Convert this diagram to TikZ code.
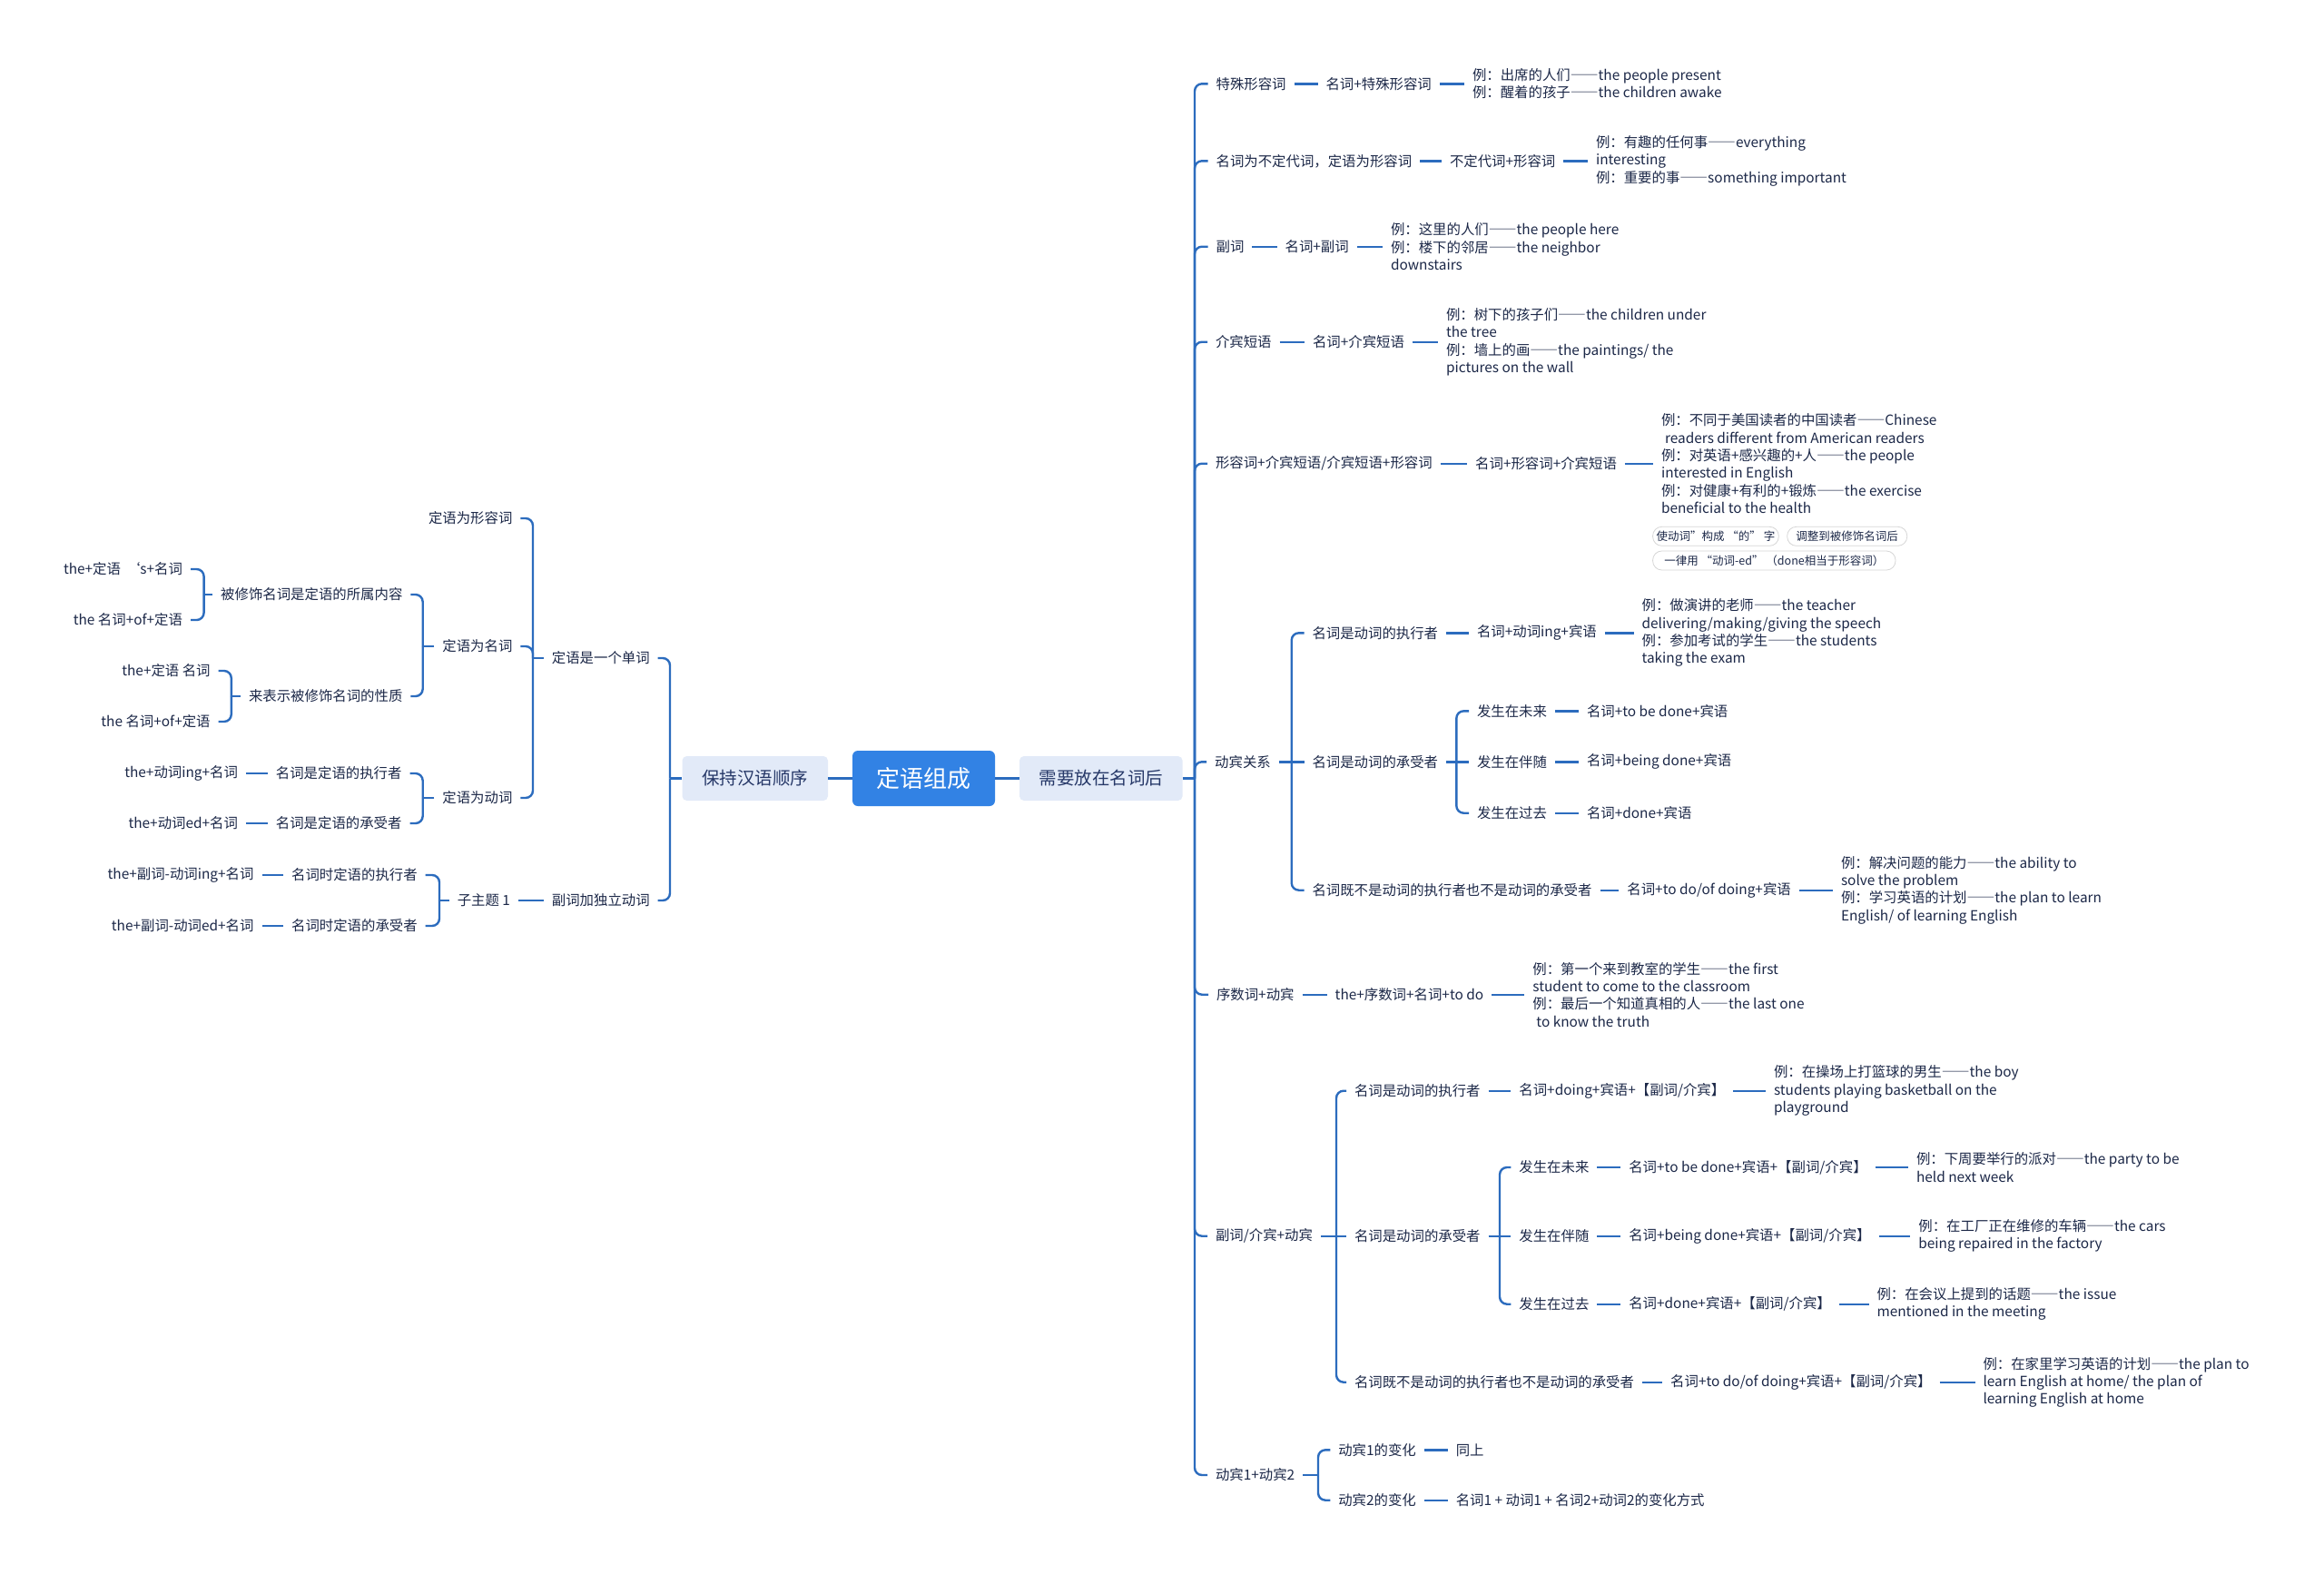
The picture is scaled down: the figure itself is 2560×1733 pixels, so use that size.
\documentclass[tikz,border=0pt]{standalone}
\usepackage{fontspec}
\setmainfont{Noto Sans CJK SC}
\definecolor{ln}{RGB}{44,108,190}
\definecolor{txt}{RGB}{28,40,72}
\definecolor{subtxt}{RGB}{38,56,104}
\definecolor{boxc}{RGB}{226,234,248}
\definecolor{rootc}{RGB}{50,130,228}
\definecolor{tagc}{RGB}{214,214,214}
\newcommand\fN{\fontsize{15.4}{19.3}\selectfont}
\newcommand\fT{\fontsize{12.5}{15}\selectfont}
\newcommand\fB{\fontsize{19.5}{23}\selectfont}
\newcommand\fC{\fontsize{26}{30}\selectfont}
\newcommand\dd{{\addfontfeature{RawFeature=+fwid}——}}
\tikzset{
  base/.style={inner sep=0pt, outer sep=0pt, text=txt, font=\fN},
  lt/.style={base, anchor=east},
  rt/.style={base, anchor=west},
  exb/.style={base, anchor=west, align=left},
  conn/.style={draw=ln, line width=2.4pt},
  brk/.style={conn, rounded corners=8pt},
  tagbox/.style={base, anchor=west, font=\fT, draw=tagc, line width=0.8pt, fill=white, rounded corners=10pt, minimum height=21pt, align=center},
  subbox/.style={fill=boxc, rounded corners=5pt, text=subtxt, font=\fB, inner sep=0pt, minimum height=49pt},
  rootbox/.style={fill=rootc, rounded corners=6pt, text=white, font=\fC, inner sep=0pt},
}
\begin{document}
\begin{tikzpicture}[x=1pt,y=-1pt]
\fill[white] (0,0) rectangle (2560,1733);
\useasboundingbox (0,0) rectangle (2560,1733);

% ---- centre ----
\node[rootbox, minimum width=157pt, minimum height=61pt] (root) at (1017.5,857.5) {定语组成};
\node[subbox, minimum width=160.5pt] (keep) at (831.75,857.5) {保持汉语顺序};
\node[subbox, minimum width=179.6pt] (need) at (1212.8,857.5) {需要放在名词后};
\draw[conn] (keep.east) -- (root.west);
\draw[conn] (root.east) -- (need.west);

% ---- trunk coordinates ----
\coordinate (tK) at (738,0);
\coordinate (tL1) at (587,0);
\coordinate (tL1b) at (465.7,0);
\coordinate (tL1b1) at (224.6,0);
\coordinate (tL1b2) at (254.8,0);
\coordinate (tL1c) at (465.7,0);
\coordinate (tL2a) at (484,0);
\coordinate (tM) at (1316,0);
\coordinate (tR6) at (1422.7,0);
\coordinate (tR6b) at (1604.3,0);
\coordinate (tR8) at (1472,0);
\coordinate (tR8b) at (1652,0);
\coordinate (tR9) at (1452,0);

% ---- left side ----
\node[lt] (L1) at (715.7,725) {定语是一个单词};
\node[lt] (L2) at (715.7,992) {副词加独立动词};
\node[lt] (L1a) at (564.4,571) {定语为形容词};
\node[lt] (L1b) at (564.4,712) {定语为名词};
\node[lt] (L1c) at (564.4,879) {定语为动词};
\node[lt] (L1b1) at (443.4,655) {被修饰名词是定语的所属内容};
\node[lt] (L1b2) at (443.4,767) {来表示被修饰名词的性质};
\node[lt] (L1b1a) at (201,627) {the+定语\hspace{6pt}‘s+名词};
\node[lt] (L1b1b) at (201,683) {the 名词+of+定语};
\node[lt] (L1b2a) at (231.6,739) {the+定语 名词};
\node[lt] (L1b2b) at (231.6,795) {the 名词+of+定语};
\node[lt] (L1c1) at (442.5,852) {名词是定语的执行者};
\node[lt] (L1c2) at (442.5,907) {名词是定语的承受者};
\node[lt] (L1c1a) at (262,852) {the+动词ing+名词};
\node[lt] (L1c2a) at (262,907) {the+动词ed+名词};
\node[lt] (L2a) at (562,992) {子主题 1};
\node[lt] (L2a1) at (459.7,964) {名词时定语的执行者};
\node[lt] (L2a2) at (459.7,1020) {名词时定语的承受者};
\node[lt] (L2a1a) at (279.5,964) {the+副词-动词ing+名词};
\node[lt] (L2a2a) at (279.5,1020) {the+副词-动词ed+名词};

\draw[conn] (keep.west) -- (keep.west -| tK);
\draw[brk] (keep.west -| tK) |- ([xshift=9pt]L1.east);
\draw[brk] (keep.west -| tK) |- ([xshift=9pt]L2.east);

\draw[conn] ([xshift=-9pt]L1.west) -- (L1.west -| tL1);
\draw[brk] (L1.west -| tL1) |- ([xshift=9pt]L1a.east);
\draw[brk] (L1.west -| tL1) |- ([xshift=9pt]L1b.east);
\draw[brk] (L1.west -| tL1) |- ([xshift=9pt]L1c.east);

\draw[conn] ([xshift=-9pt]L1b.west) -- (L1b.west -| tL1b);
\draw[brk] (L1b.west -| tL1b) |- ([xshift=9pt]L1b1.east);
\draw[brk] (L1b.west -| tL1b) |- ([xshift=9pt]L1b2.east);

\draw[conn] ([xshift=-9pt]L1b1.west) -- (L1b1.west -| tL1b1);
\draw[brk] (L1b1.west -| tL1b1) |- ([xshift=9pt]L1b1a.east);
\draw[brk] (L1b1.west -| tL1b1) |- ([xshift=9pt]L1b1b.east);

\draw[conn] ([xshift=-9pt]L1b2.west) -- (L1b2.west -| tL1b2);
\draw[brk] (L1b2.west -| tL1b2) |- ([xshift=9pt]L1b2a.east);
\draw[brk] (L1b2.west -| tL1b2) |- ([xshift=9pt]L1b2b.east);

\draw[conn] ([xshift=-9pt]L1c.west) -- (L1c.west -| tL1c);
\draw[brk] (L1c.west -| tL1c) |- ([xshift=9pt]L1c1.east);
\draw[brk] (L1c.west -| tL1c) |- ([xshift=9pt]L1c2.east);

\draw[conn] ([xshift=-9pt]L1c1.west) -- ([xshift=9pt]L1c1a.east);
\draw[conn] ([xshift=-9pt]L1c2.west) -- ([xshift=9pt]L1c2a.east);

\draw[conn] ([xshift=-9pt]L2.west) -- ([xshift=9pt]L2a.east);
\draw[conn] ([xshift=-9pt]L2a.west) -- (L2a.west -| tL2a);
\draw[brk] (L2a.west -| tL2a) |- ([xshift=9pt]L2a1.east);
\draw[brk] (L2a.west -| tL2a) |- ([xshift=9pt]L2a2.east);
\draw[conn] ([xshift=-9pt]L2a1.west) -- ([xshift=9pt]L2a1a.east);
\draw[conn] ([xshift=-9pt]L2a2.west) -- ([xshift=9pt]L2a2a.east);

% ---- right side ----
\node[rt] (R1) at (1339.6,92.3) {特殊形容词};
\node[rt] (R1a) at (1460.5,92.3) {名词+特殊形容词};
\node[exb] (R1b) at (1622,92.3) {例：出席的人们\dd the people present\\例：醒着的孩子\dd the children awake};

\node[rt] (R2) at (1339.6,177.3) {名词为不定代词，定语为形容词};
\node[rt] (R2a) at (1597,177.3) {不定代词+形容词};
\node[exb] (R2b) at (1758,177.3) {例：有趣的任何事\dd everything\\interesting\\例：重要的事\dd something important};

\node[rt] (R3) at (1339.6,271.7) {副词};
\node[rt] (R3a) at (1415.6,271.7) {名词+副词};
\node[exb] (R3b) at (1532,271.7) {例：这里的人们\dd the people here\\例：楼下的邻居\dd the neighbor\\downstairs};

\node[rt] (R4) at (1339,376.7) {介宾短语};
\node[rt] (R4a) at (1446,376.7) {名词+介宾短语};
\node[exb] (R4b) at (1593,376.7) {例：树下的孩子们\dd the children under\\the tree\\例：墙上的画\dd the paintings/ the\\pictures on the wall};

\node[rt] (R5) at (1339,510.7) {形容词+介宾短语/介宾短语+形容词};
\node[rt] (R5a) at (1625.2,510.7) {名词+形容词+介宾短语};
\node[exb] (R5b) at (1830,510.7) {例：不同于美国读者的中国读者\dd Chinese\\\hspace*{4pt}readers different from American readers\\例：对英语+感兴趣的+人\dd the people\\interested in English\\例：对健康+有利的+锻炼\dd the exercise\\beneficial to the health};
\node[tagbox, minimum width=138.7pt] (T1) at (1820.6,590.8) {使动词”构成 “的” 字};
\node[tagbox, minimum width=132pt] (T2) at (1968.7,590.8) {调整到被修饰名词后};
\node[tagbox, minimum width=267.4pt] (T3) at (1820.6,617.5) {一律用 “动词-ed” （done相当于形容词）};

\node[rt] (R6) at (1338.2,839.3) {动宾关系};
\node[rt] (R6a) at (1445.5,697.3) {名词是动词的执行者};
\node[rt] (R6a1) at (1627,697.3) {名词+动词ing+宾语};
\node[exb] (R6a2) at (1808.6,697.3) {例：做演讲的老师\dd the teacher\\delivering/making/giving the speech\\例：参加考试的学生\dd the students\\taking the exam};
\node[rt] (R6b) at (1445.5,839.3) {名词是动词的承受者};
\node[rt] (R6b1) at (1627,783.3) {发生在未来};
\node[rt] (R6b1a) at (1748,783.3) {名词+to be done+宾语};
\node[rt] (R6b2) at (1627,839.3) {发生在伴随};
\node[rt] (R6b2a) at (1748,839.3) {名词+being done+宾语};
\node[rt] (R6b3) at (1627,895.7) {发生在过去};
\node[rt] (R6b3a) at (1748,895.7) {名词+done+宾语};
\node[rt] (R6c) at (1445.5,980.7) {名词既不是动词的执行者也不是动词的承受者};
\node[rt] (R6c1) at (1792.4,980.7) {名词+to do/of doing+宾语};
\node[exb] (R6c2) at (2028,980.7) {例：解决问题的能力\dd the ability to\\solve the problem\\例：学习英语的计划\dd the plan to learn\\English/ of learning English};

\node[rt] (R7) at (1340,1095.7) {序数词+动宾};
\node[rt] (R7a) at (1470.7,1095.7) {the+序数词+名词+to do};
\node[exb] (R7b) at (1688.4,1095.7) {例：第一个来到教室的学生\dd the first\\student to come to the classroom\\例：最后一个知道真相的人\dd the last one\\\hspace*{4pt}to know the truth};

\node[rt] (R8) at (1339,1361.7) {副词/介宾+动宾};
\node[rt] (R8a) at (1492,1201.7) {名词是动词的执行者};
\node[rt] (R8a1) at (1673.4,1201.7) {名词+doing+宾语+【副词/介宾】};
\node[exb] (R8a2) at (1954,1201.7) {例：在操场上打篮球的男生\dd the boy\\students playing basketball on the\\playground};
\node[rt] (R8b) at (1492,1361.7) {名词是动词的承受者};
\node[rt] (R8b1) at (1673.4,1286) {发生在未来};
\node[rt] (R8b1a) at (1794.3,1286) {名词+to be done+宾语+【副词/介宾】};
\node[exb] (R8b1b) at (2111,1286) {例：下周要举行的派对\dd the party to be\\held next week};
\node[rt] (R8b2) at (1673.4,1361.7) {发生在伴随};
\node[rt] (R8b2a) at (1794.3,1361.7) {名词+being done+宾语+【副词/介宾】};
\node[exb] (R8b2b) at (2113.4,1361.7) {例：在工厂正在维修的车辆\dd the cars\\being repaired in the factory};
\node[rt] (R8b3) at (1673.4,1436.7) {发生在过去};
\node[rt] (R8b3a) at (1794.3,1436.7) {名词+done+宾语+【副词/介宾】};
\node[exb] (R8b3b) at (2067.5,1436.7) {例：在会议上提到的话题\dd the issue\\mentioned in the meeting};
\node[rt] (R8c) at (1492,1522.7) {名词既不是动词的执行者也不是动词的承受者};
\node[rt] (R8c1) at (1840.2,1522.7) {名词+to do/of doing+宾语+【副词/介宾】};
\node[exb] (R8c2) at (2184.5,1522.7) {例：在家里学习英语的计划\dd the plan to\\learn English at home/ the plan of\\learning English at home};

\node[rt] (R9) at (1339,1625) {动宾1+动宾2};
\node[rt] (R9a) at (1474.3,1597.3) {动宾1的变化};
\node[rt] (R9a1) at (1603.8,1597.3) {同上};
\node[rt] (R9b) at (1474.3,1652.7) {动宾2的变化};
\node[rt] (R9b1) at (1603.8,1652.7) {名词1 + 动词1 + 名词2+动词2的变化方式};

% main trunk
\draw[conn] (need.east) -- (need.east -| tM);
\foreach \c in {R1,R2,R3,R4,R5,R6,R7,R8,R9}
  \draw[brk] (need.east -| tM) |- ([xshift=-9pt]\c.west);

% simple chains
\draw[conn] ([xshift=9pt]R1.east) -- ([xshift=-9pt]R1a.west);
\draw[conn] ([xshift=9pt]R1a.east) -- ([xshift=-9pt]R1b.west);
\draw[conn] ([xshift=9pt]R2.east) -- ([xshift=-9pt]R2a.west);
\draw[conn] ([xshift=9pt]R2a.east) -- ([xshift=-9pt]R2b.west);
\draw[conn] ([xshift=9pt]R3.east) -- ([xshift=-9pt]R3a.west);
\draw[conn] ([xshift=9pt]R3a.east) -- ([xshift=-9pt]R3b.west);
\draw[conn] ([xshift=9pt]R4.east) -- ([xshift=-9pt]R4a.west);
\draw[conn] ([xshift=9pt]R4a.east) -- ([xshift=-9pt]R4b.west);
\draw[conn] ([xshift=9pt]R5.east) -- ([xshift=-9pt]R5a.west);
\draw[conn] ([xshift=9pt]R5a.east) -- ([xshift=-9pt]R5b.west);
\draw[conn] ([xshift=9pt]R7.east) -- ([xshift=-9pt]R7a.west);
\draw[conn] ([xshift=9pt]R7a.east) -- ([xshift=-9pt]R7b.west);

% R6 bracket
\draw[conn] ([xshift=9pt]R6.east) -- (R6.east -| tR6);
\draw[brk] (R6.east -| tR6) |- ([xshift=-9pt]R6a.west);
\draw[conn] (R6.east -| tR6) -- ([xshift=-9pt]R6b.west);
\draw[brk] (R6.east -| tR6) |- ([xshift=-9pt]R6c.west);
\draw[conn] ([xshift=9pt]R6a.east) -- ([xshift=-9pt]R6a1.west);
\draw[conn] ([xshift=9pt]R6a1.east) -- ([xshift=-9pt]R6a2.west);
\draw[conn] ([xshift=9pt]R6b.east) -- (R6b.east -| tR6b);
\draw[brk] (R6b.east -| tR6b) |- ([xshift=-9pt]R6b1.west);
\draw[conn] (R6b.east -| tR6b) -- ([xshift=-9pt]R6b2.west);
\draw[brk] (R6b.east -| tR6b) |- ([xshift=-9pt]R6b3.west);
\draw[conn] ([xshift=9pt]R6b1.east) -- ([xshift=-9pt]R6b1a.west);
\draw[conn] ([xshift=9pt]R6b2.east) -- ([xshift=-9pt]R6b2a.west);
\draw[conn] ([xshift=9pt]R6b3.east) -- ([xshift=-9pt]R6b3a.west);
\draw[conn] ([xshift=9pt]R6c.east) -- ([xshift=-9pt]R6c1.west);
\draw[conn] ([xshift=9pt]R6c1.east) -- ([xshift=-9pt]R6c2.west);

% R8 bracket
\draw[conn] ([xshift=9pt]R8.east) -- (R8.east -| tR8);
\draw[brk] (R8.east -| tR8) |- ([xshift=-9pt]R8a.west);
\draw[conn] (R8.east -| tR8) -- ([xshift=-9pt]R8b.west);
\draw[brk] (R8.east -| tR8) |- ([xshift=-9pt]R8c.west);
\draw[conn] ([xshift=9pt]R8a.east) -- ([xshift=-9pt]R8a1.west);
\draw[conn] ([xshift=9pt]R8a1.east) -- ([xshift=-9pt]R8a2.west);
\draw[conn] ([xshift=9pt]R8b.east) -- (R8b.east -| tR8b);
\draw[brk] (R8b.east -| tR8b) |- ([xshift=-9pt]R8b1.west);
\draw[conn] (R8b.east -| tR8b) -- ([xshift=-9pt]R8b2.west);
\draw[brk] (R8b.east -| tR8b) |- ([xshift=-9pt]R8b3.west);
\draw[conn] ([xshift=9pt]R8b1.east) -- ([xshift=-9pt]R8b1a.west);
\draw[conn] ([xshift=9pt]R8b1a.east) -- ([xshift=-9pt]R8b1b.west);
\draw[conn] ([xshift=9pt]R8b2.east) -- ([xshift=-9pt]R8b2a.west);
\draw[conn] ([xshift=9pt]R8b2a.east) -- ([xshift=-9pt]R8b2b.west);
\draw[conn] ([xshift=9pt]R8b3.east) -- ([xshift=-9pt]R8b3a.west);
\draw[conn] ([xshift=9pt]R8b3a.east) -- ([xshift=-9pt]R8b3b.west);
\draw[conn] ([xshift=9pt]R8c.east) -- ([xshift=-9pt]R8c1.west);
\draw[conn] ([xshift=9pt]R8c1.east) -- ([xshift=-9pt]R8c2.west);

% R9 bracket
\draw[conn] ([xshift=9pt]R9.east) -- (R9.east -| tR9);
\draw[brk] (R9.east -| tR9) |- ([xshift=-9pt]R9a.west);
\draw[brk] (R9.east -| tR9) |- ([xshift=-9pt]R9b.west);
\draw[conn] ([xshift=9pt]R9a.east) -- ([xshift=-9pt]R9a1.west);
\draw[conn] ([xshift=9pt]R9b.east) -- ([xshift=-9pt]R9b1.west);
\end{tikzpicture}
\end{document}
